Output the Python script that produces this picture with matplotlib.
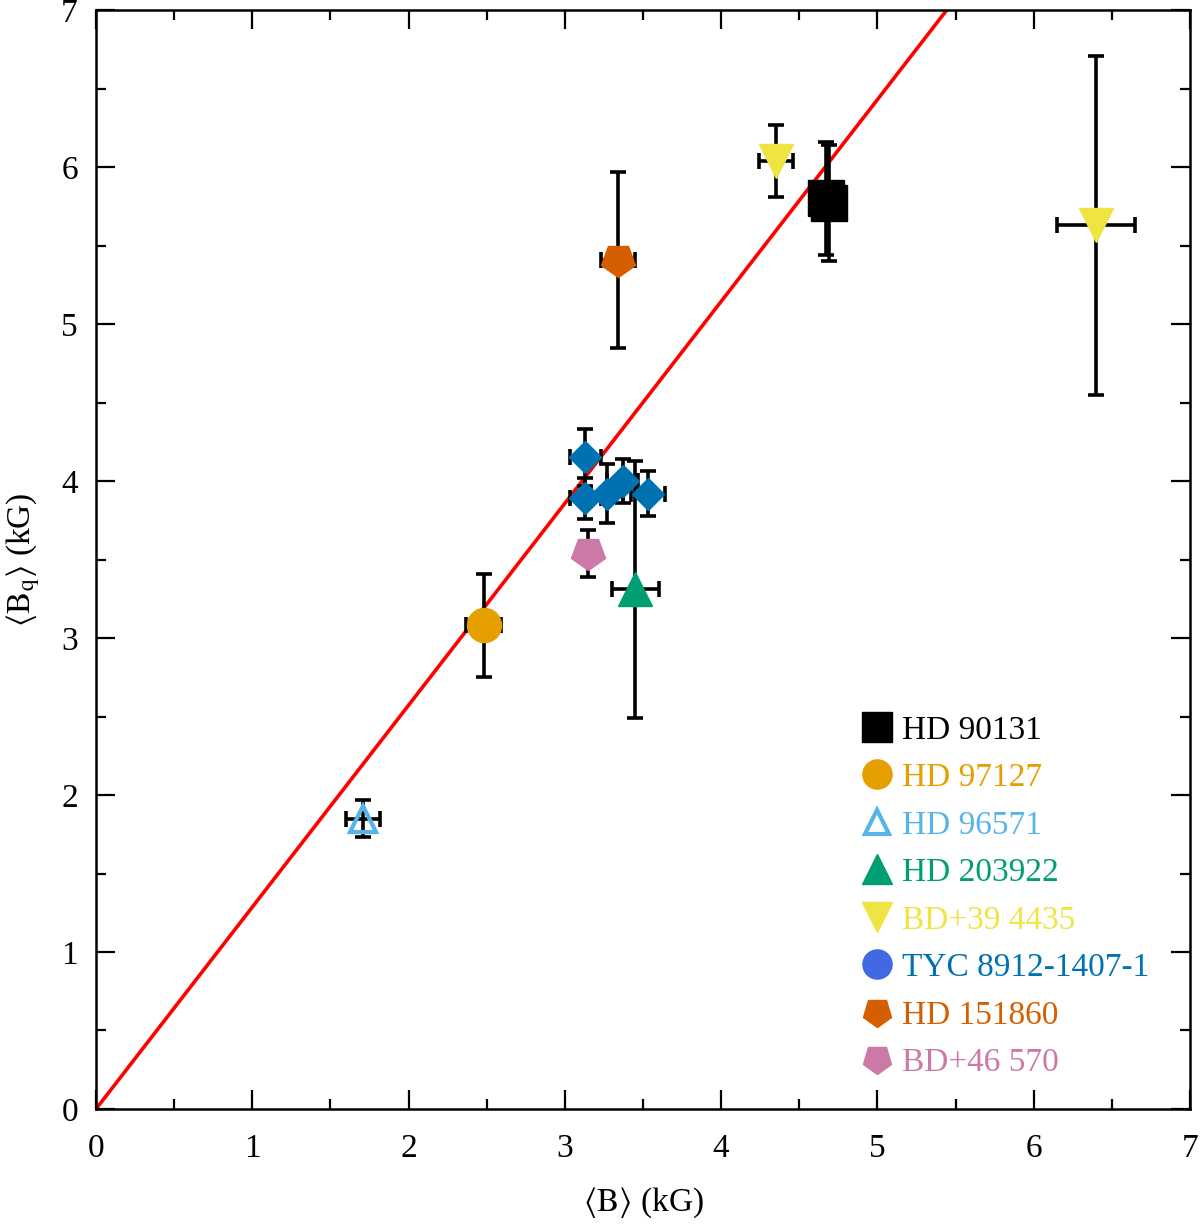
import matplotlib
matplotlib.use("Agg")
import matplotlib.pyplot as plt
from matplotlib.lines import Line2D
from matplotlib.markers import MarkerStyle
from matplotlib.transforms import Affine2D

plt.rcParams["font.family"] = ["Liberation Serif", "DejaVu Serif"]
plt.rcParams["mathtext.fontset"] = "stix"

# star names, colours and marker shapes
stars = ["HD 90131", "HD 97127", "HD 96571", "HD 203922", "BD+39 4435",
         "TYC 8912-1407-1", "HD 151860", "BD+46 570"]
colors = ["#000000", "#E69F00", "#56B4E9", "#009E73", "#F0E442",
          "#0072B2", "#D55E00", "#CC79A7"]

# measurements: <B>, <Bq> and their errors (kG)
b_mean = {"HD 90131": [4.67, 4.69], "HD 97127": [2.48], "HD 96571": [1.71],
          "HD 203922": [3.45], "BD+39 4435": [4.35, 6.40],
          "TYC 8912-1407-1": [3.13, 3.13, 3.27, 3.37, 3.53],
          "HD 151860": [3.34], "BD+46 570": [3.15]}
b_err = {"HD 90131": [0.05, 0.05], "HD 97127": [0.11], "HD 96571": [0.11],
         "HD 203922": [0.15], "BD+39 4435": [0.11, 0.25],
         "TYC 8912-1407-1": [0.10, 0.10, 0.10, 0.10, 0.11],
         "HD 151860": [0.11], "BD+46 570": [0.05]}
bq_mean = {"HD 90131": [5.80, 5.77], "HD 97127": [3.08], "HD 96571": [1.85],
           "HD 203922": [3.31], "BD+39 4435": [6.04, 5.63],
           "TYC 8912-1407-1": [4.15, 3.89, 3.92, 4.00, 3.92],
           "HD 151860": [5.41], "BD+46 570": [3.54]}
bq_err = {"HD 90131": [0.36, 0.37], "HD 97127": [0.33], "HD 96571": [0.12],
          "HD 203922": [0.82], "BD+39 4435": [0.23, 1.08],
          "TYC 8912-1407-1": [0.18, 0.13, 0.19, 0.14, 0.145],
          "HD 151860": [0.56], "BD+46 570": [0.15]}

slope = 1.286  # red relation line through the origin

pent_down = MarkerStyle("p", transform=Affine2D().rotate_deg(180))
markers = {"HD 90131": ("s", 26, True), "HD 97127": ("o", 24.5, True),
           "HD 96571": ("^", 19, False), "HD 203922": ("^", 25, True),
           "BD+39 4435": ("v", 25, True), "TYC 8912-1407-1": ("D", 16.5, True),
           "HD 151860": (pent_down, 25, True), "BD+46 570": (pent_down, 25, True)}

fig = plt.figure(figsize=(12, 12.25), dpi=100)
ax = fig.add_axes([0.08, 0.0947, 0.9117, 0.8971])

ax.plot([0, 7 / slope], [0, 7], color="red", lw=2.6, zorder=1)

for name, col in zip(stars, colors):
    ax.errorbar(b_mean[name], bq_mean[name], xerr=b_err[name], yerr=bq_err[name],
                fmt="none", ecolor="black", elinewidth=2.6, capsize=5.5, capthick=2.6, zorder=2)
    m, ms, filled = markers[name]
    if filled:
        ax.plot(b_mean[name], bq_mean[name], ls="none", marker=m, ms=ms, color=col, mec=col, zorder=3)
    else:
        ax.plot(b_mean[name], bq_mean[name], ls="none", marker=m, ms=ms, mfc="none", mec=col, mew=3, zorder=3)

# legend handles (TYC shown as a round symbol in the key)
legend_marks = [("s", "#000000", True), ("o", "#E69F00", True), ("^", "#56B4E9", False),
                ("^", "#009E73", True), ("v", "#F0E442", True), ("o", "#4169E1", True),
                (pent_down, "#D55E00", True), (pent_down, "#CC79A7", True)]
handles = []
for m, c, filled in legend_marks:
    if filled:
        handles.append(Line2D([], [], ls="none", marker=m, ms=21, color=c, mec=c))
    else:
        handles.append(Line2D([], [], ls="none", marker=m, ms=17, mfc="none", mec=c, mew=3))
ax.legend(handles, stars, loc="lower left", bbox_to_anchor=(0.686, 0.016), frameon=False,
          fontsize=24, labelcolor=colors, handlelength=1.0, handletextpad=0.25,
          labelspacing=0.51, borderaxespad=0)

ax.set_xlim(0, 7)
ax.set_ylim(0, 7)
ax.set_xticks(range(8))
ax.set_yticks(range(8))
ax.set_xticks([i + 0.5 for i in range(7)], minor=True)
ax.set_yticks([i + 0.5 for i in range(7)], minor=True)
ax.tick_params(which="both", direction="in", top=True, right=True, width=1.6, labelsize=24)
ax.tick_params(which="major", length=14)
ax.tick_params(which="minor", length=7)
ax.tick_params(axis="x", pad=18)
ax.tick_params(axis="y", pad=13)
for s in ax.spines.values():
    s.set_linewidth(1.8)

ax.set_xlabel(r"$\langle\mathrm{B}\rangle$ (kG)", fontsize=24, labelpad=15)
ax.set_ylabel(r"$\langle\mathrm{B_q}\rangle$ (kG)", fontsize=24, labelpad=14)

fig.savefig("out.png", dpi=100)
